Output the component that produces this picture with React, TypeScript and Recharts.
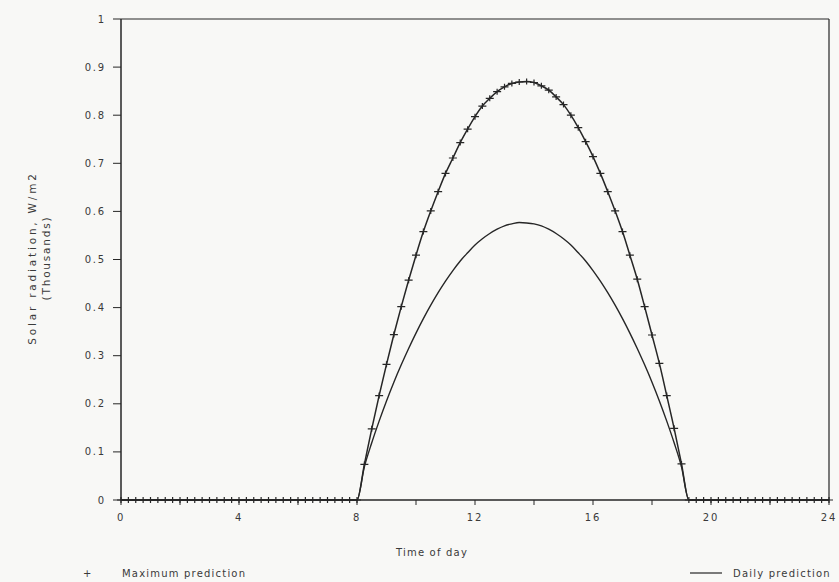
import { LineChart, Line, XAxis, YAxis, ReferenceLine } from "recharts";

// time of day, quarter hours
const HOURS = [
  0, 0.25, 0.5, 0.75, 1, 1.25, 1.5, 1.75, 2, 2.25, 2.5, 2.75,
  3, 3.25, 3.5, 3.75, 4, 4.25, 4.5, 4.75, 5, 5.25, 5.5, 5.75,
  6, 6.25, 6.5, 6.75, 7, 7.25, 7.5, 7.75, 8, 8.25, 8.5, 8.75,
  9, 9.25, 9.5, 9.75, 10, 10.25, 10.5, 10.75, 11, 11.25, 11.5, 11.75,
  12, 12.25, 12.5, 12.75, 13, 13.25, 13.5, 13.75, 14, 14.25, 14.5, 14.75,
  15, 15.25, 15.5, 15.75, 16, 16.25, 16.5, 16.75, 17, 17.25, 17.5, 17.75,
  18, 18.25, 18.5, 18.75, 19, 19.25, 19.5, 19.75, 20, 20.25, 20.5, 20.75,
  21, 21.25, 21.5, 21.75, 22, 22.25, 22.5, 22.75, 23, 23.25, 23.5, 23.75,
  24,
];

// Maximum prediction (thousands of W/m2)
const MAX_PRED = [
  0, 0, 0, 0, 0, 0, 0, 0, 0, 0, 0, 0,
  0, 0, 0, 0, 0, 0, 0, 0, 0, 0, 0, 0,
  0, 0, 0, 0, 0, 0, 0, 0, 0, 0.074, 0.148, 0.217,
  0.282, 0.344, 0.402, 0.457, 0.509, 0.558, 0.601, 0.641, 0.679, 0.711, 0.743, 0.771,
  0.797, 0.819, 0.835, 0.849, 0.859, 0.866, 0.869, 0.87, 0.868, 0.861, 0.852, 0.838,
  0.822, 0.8, 0.774, 0.745, 0.714, 0.679, 0.641, 0.601, 0.558, 0.509, 0.459, 0.402,
  0.343, 0.284, 0.217, 0.149, 0.075, 0, 0, 0, 0, 0, 0, 0,
  0, 0, 0, 0, 0, 0, 0, 0, 0, 0, 0, 0,
  0,
];

// Daily prediction (thousands of W/m2)
const DAILY_PRED = [
  0, 0, 0, 0, 0, 0, 0, 0, 0, 0, 0, 0,
  0, 0, 0, 0, 0, 0, 0, 0, 0, 0, 0, 0,
  0, 0, 0, 0, 0, 0, 0, 0, 0, 0.069, 0.119, 0.164,
  0.206, 0.245, 0.281, 0.315, 0.347, 0.377, 0.405, 0.431, 0.455, 0.477, 0.497, 0.514,
  0.53, 0.543, 0.554, 0.563, 0.57, 0.574, 0.577, 0.576, 0.574, 0.57, 0.563, 0.554,
  0.543, 0.53, 0.514, 0.497, 0.477, 0.455, 0.431, 0.405, 0.377, 0.347, 0.315, 0.281,
  0.245, 0.206, 0.164, 0.119, 0.069, 0, 0, 0, 0, 0, 0, 0,
  0, 0, 0, 0, 0, 0, 0, 0, 0, 0, 0, 0,
  0,
];

const X_TICKS = [0, 2, 4, 6, 8, 10, 12, 14, 16, 18, 20, 22, 24];
const X_LABELED = [0, 4, 8, 12, 16, 20, 24];
const Y_TICKS = [0, 0.1, 0.2, 0.3, 0.4, 0.5, 0.6, 0.7, 0.8, 0.9, 1];
const Y_TICK_LABELS = ["0", "0.1", "0.2", "0.3", "0.4", "0.5", "0.6", "0.7", "0.8", "0.9", "1"];

const W = 839;
const H = 582;
const INK = "#262626";
const TEXT = "#3a3a3a";
const FONT = "'DejaVu Sans', sans-serif";

const tickStyle = { fontSize: 10, fill: TEXT, fontFamily: FONT, letterSpacing: 1.8 };

// "+" marker used by the maximum prediction series
function PlusDot({ cx, cy }: { cx?: number; cy?: number }) {
  if (cx == null || cy == null) return null;
  return (
    <path
      d={`M${cx - 4},${cy}H${cx + 4}M${cx},${cy - 3}V${cy + 3}`}
      stroke={INK}
      strokeWidth={1.2}
      fill="none"
    />
  );
}

export default function App() {
  const data = HOURS.map((t, i) => ({ t, max: MAX_PRED[i], daily: DAILY_PRED[i] }));

  return (
    <div style={{ position: "absolute", left: 0, top: 0, width: W, height: H, background: "#f8f8f6" }}>
      <LineChart width={W} height={H} data={data} margin={{ top: 19, right: 10, bottom: 52, left: 0 }}>
        <XAxis
          dataKey="t"
          type="number"
          domain={[0, 24]}
          ticks={X_TICKS}
          interval={0}
          tickFormatter={(v: number) => (X_LABELED.includes(v) ? String(v) : "")}
          tickSize={5}
          tickMargin={9}
          height={30}
          axisLine={{ stroke: INK, strokeWidth: 1.5 }}
          tickLine={{ stroke: INK }}
          tick={tickStyle}
        />
        <YAxis
          type="number"
          domain={[0, 1]}
          ticks={Y_TICKS}
          interval={0}
          tickFormatter={(_v: number, i: number) => Y_TICK_LABELS[i]}
          width={121}
          tickSize={8}
          tickMargin={7}
          axisLine={{ stroke: INK, strokeWidth: 1.5 }}
          tickLine={{ stroke: INK }}
          tick={tickStyle}
        />
        {/* plot frame */}
        <ReferenceLine y={1} stroke={INK} strokeWidth={1.2} />
        <ReferenceLine x={24} stroke={INK} strokeWidth={1.2} />

        <Line
          dataKey="daily"
          type="monotone"
          stroke={INK}
          strokeWidth={1.4}
          dot={false}
          isAnimationActive={false}
        />
        <Line
          dataKey="max"
          type="monotone"
          stroke={INK}
          strokeWidth={1.5}
          dot={<PlusDot />}
          isAnimationActive={false}
        />
      </LineChart>

      {/* titles and legend */}
      <svg
        width={W}
        height={H}
        style={{ position: "absolute", left: 0, top: 0, pointerEvents: "none" }}
        fontFamily={FONT}
        fill={TEXT}
      >
        <text x={36} y={258} fontSize={10.5} letterSpacing={2.8} textAnchor="middle" transform="rotate(-90 36 258)">
          Solar radiation, W/m2
        </text>
        <text x={50} y={258} fontSize={10.5} letterSpacing={1.8} textAnchor="middle" transform="rotate(-90 50 258)">
          (Thousands)
        </text>
        <text x={432} y={556} fontSize={10} letterSpacing={1.2} textAnchor="middle">
          Time of day
        </text>
        <text x={83} y={577} fontSize={10}>+</text>
        <text x={122} y={577} fontSize={10} letterSpacing={1.2}>
          Maximum prediction
        </text>
        <line x1={690} x2={722} y1={573} y2={573} stroke={INK} strokeWidth={1.2} />
        <text x={733} y={577} fontSize={10} letterSpacing={1.2}>
          Daily prediction
        </text>
      </svg>
    </div>
  );
}
